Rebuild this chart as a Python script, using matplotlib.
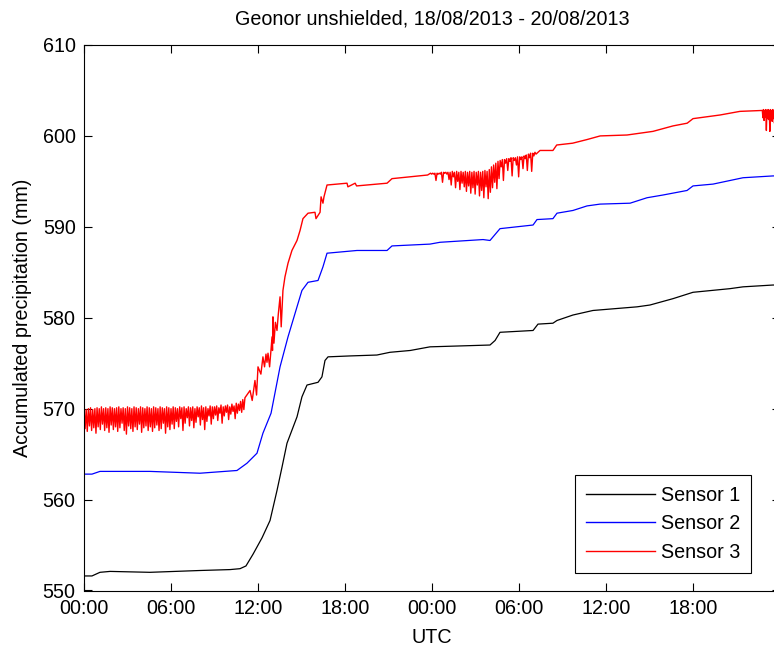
import numpy as np
import matplotlib
matplotlib.use("Agg")
import matplotlib.pyplot as plt

# ---------------- data (hours since 18/08/2013 00:00 UTC, mm) ----------------
s1_hours = [0.0, 0.55, 1.1, 1.8, 4.55, 8.0, 10.07, 10.76, 11.17, 11.66, 12.28, 12.83,
            13.31, 13.66, 14.0, 14.69, 15.03, 15.38, 16.14, 16.41, 16.62, 16.83, 18.34,
            20.2, 21.1, 22.5, 23.86, 28.0, 28.35, 28.69, 30.97, 31.31, 32.34, 32.62,
            33.72, 35.1, 38.14, 39.03, 40.62, 42.0, 44.55, 45.45, 47.52, 48.0]
s1_values = [551.6, 551.6, 552.0, 552.1, 552.0, 552.2, 552.3, 552.4, 552.7, 554.0, 555.8, 557.7,
             561.0, 563.6, 566.2, 569.1, 571.3, 572.6, 572.9, 573.5, 575.3, 575.7, 575.8,
             575.9, 576.2, 576.4, 576.8, 577.0, 577.5, 578.4, 578.6, 579.3, 579.4, 579.7,
             580.3, 580.8, 581.2, 581.4, 582.1, 582.8, 583.2, 583.4, 583.6, 583.6]

s2_hours = [0.0, 0.55, 1.1, 4.55, 8.0, 10.55, 11.24, 11.93, 12.34, 12.9, 13.52, 14.07,
            14.69, 15.03, 15.45, 16.14, 16.48, 16.76, 18.83, 20.9, 21.24, 23.86, 24.55,
            27.52, 28.0, 28.69, 30.97, 31.24, 32.34, 32.62, 33.72, 34.69, 35.59, 37.66,
            38.83, 39.93, 41.59, 42.0, 43.38, 45.45, 47.52, 48.0]
s2_values = [562.8, 562.8, 563.1, 563.1, 562.9, 563.2, 564.0, 565.1, 567.3, 569.5, 574.6, 577.9,
             581.2, 583.0, 583.9, 584.1, 585.6, 587.1, 587.4, 587.4, 587.9, 588.1, 588.3,
             588.6, 588.5, 589.8, 590.2, 590.8, 590.9, 591.5, 591.8, 592.3, 592.5, 592.6,
             593.2, 593.5, 594.0, 594.5, 594.7, 595.4, 595.6, 595.6]

# Sensor 3: noisy stretches, readings every 0.075 h (0.04 h at the very end)
s3_noise_a_start, s3_noise_a_step = 0.0, 0.075
s3_noise_a = [570.0, 567.8, 569.9, 567.5, 570.0, 568.1, 570.1, 567.6, 569.9, 567.9,
              570.0, 567.3, 570.1, 568.0, 570.0, 567.7, 570.2, 568.3, 570.0, 567.6,
              570.1, 567.9, 570.0, 567.4, 570.2, 568.2, 570.1, 567.7, 570.0, 568.0,
              570.1, 567.5, 570.2, 567.9, 570.0, 568.4, 570.1, 567.6, 570.0, 567.2,
              570.2, 568.1, 570.1, 567.8, 570.0, 567.5, 570.2, 568.0, 570.1, 567.7,
              570.0, 568.3, 570.2, 567.4, 570.1, 567.9, 570.0, 568.1, 570.2, 567.6,
              570.1, 568.0, 570.0, 567.5, 570.2, 567.9, 570.1, 568.2, 570.0, 567.6,
              570.2, 567.8, 570.1, 568.4, 570.0, 567.3, 570.2, 568.0, 570.1, 567.7,
              570.0, 568.3, 570.2, 567.8, 570.1, 568.6, 570.0, 568.0, 570.2, 568.9,
              570.1, 567.6, 570.2, 568.4, 570.0, 569.0, 570.2, 568.1, 570.1, 568.7,
              570.2, 567.9, 570.0, 568.5, 570.2, 569.1, 570.1, 568.2, 570.3, 568.8,
              570.1, 567.7, 570.2, 568.6, 570.0, 569.2, 570.3, 568.3, 570.2, 568.9,
              570.2, 569.3, 570.3, 568.7, 570.1, 569.5, 570.4, 568.4, 570.2, 569.2,
              570.3, 569.6, 570.4, 568.8, 570.2, 569.4, 570.5, 569.7, 570.3, 568.9,
              570.6, 569.5, 570.5, 569.8, 570.8, 569.6, 571.0, 569.9, 571.2]

s3_rise_hours = [11.45, 11.6, 11.79, 11.9, 12.0, 12.2, 12.34, 12.45, 12.55, 12.62, 12.69,
                 12.8, 12.97, 13.0, 13.03, 13.1, 13.2, 13.31, 13.4, 13.52, 13.6, 13.72,
                 13.86, 14.07, 14.34, 14.69, 14.9, 15.1, 15.45, 15.93, 16.0, 16.28, 16.35,
                 16.48, 16.55, 16.76, 18.14, 18.2, 18.7, 18.8, 20.9, 21.24, 23.7]
s3_rise_values = [572.0, 570.9, 573.1, 571.5, 574.6, 573.8, 575.7, 574.6, 576.0, 575.1, 576.1,
                  574.6, 577.9, 576.4, 580.1, 577.2, 579.5, 578.6, 580.4, 582.3, 579.0, 583.0,
                  584.5, 586.0, 587.4, 588.5, 589.6, 590.9, 591.5, 591.6, 590.9, 591.6, 593.3,
                  592.6, 593.3, 594.6, 594.8, 594.4, 594.8, 594.5, 594.8, 595.3, 595.7]

s3_noise_b_start, s3_noise_b_step = 23.9, 0.075
s3_noise_b = [595.9, 595.8, 595.9, 595.8, 595.9, 595.1, 595.9, 595.8, 595.9, 595.8,
              596.0, 594.9, 596.0, 595.9, 596.0, 595.8,
              596.0, 595.2, 596.0, 594.6, 596.1, 595.5, 596.0, 594.3, 596.1, 595.0,
              596.0, 594.1, 596.1, 594.8, 596.0, 594.4, 596.1, 593.9,
              596.0, 594.5, 596.1, 593.7, 596.0, 594.3, 596.1, 593.6, 596.0, 594.6,
              596.1, 593.4, 596.0, 594.0, 596.1, 593.2, 596.2, 594.4, 596.1, 593.1,
              596.3, 593.8, 596.6, 594.3, 596.8, 594.9, 597.0, 594.2, 597.2, 595.3,
              597.3, 596.6, 597.4, 595.1, 597.4, 597.0, 597.5, 596.2, 597.5, 597.2,
              597.6, 595.6, 597.6, 597.3, 597.6, 596.8, 597.7, 595.5, 597.7, 597.4,
              597.7, 596.4, 597.8, 597.5, 597.9, 596.2, 598.0, 597.6, 598.1, 596.1,
              598.1, 597.8, 598.2, 598.0]

s3_late_hours = [31.45, 32.34, 32.6, 33.7, 34.69, 35.6, 37.45, 39.24, 40.62, 41.6, 42.0,
                 43.86, 45.24, 46.7]
s3_late_values = [598.4, 598.4, 599.0, 599.2, 599.6, 600.0, 600.1, 600.5, 601.1, 601.4, 601.9,
                  602.3, 602.7, 602.8]

s3_noise_c_start, s3_noise_c_step = 46.78, 0.04
s3_noise_c = [602.8, 602.0, 602.9, 601.7, 602.8, 602.1, 602.9, 600.6, 602.8, 601.9,
              602.9, 601.8, 602.8, 600.5, 602.9, 602.0, 602.8, 601.6, 602.9, 601.9,
              602.8, 601.4, 602.9, 602.0, 602.8, 601.7, 602.9, 601.5, 602.8, 601.9]

series_labels = ["Sensor 1", "Sensor 2", "Sensor 3"]
series_colors = ["black", "blue", "red"]
x_ticks_hours = [0, 6, 12, 18, 24, 30, 36, 42]
x_tick_labels = ["00:00", "06:00", "12:00", "18:00", "00:00", "06:00", "12:00", "18:00"]
y_ticks = [550, 560, 570, 580, 590, 600, 610]

# ---------------- assemble sensor 3 ----------------
def seg(start, step, vals):
    return list(start + step * np.arange(len(vals))), list(vals)

ta, va = seg(s3_noise_a_start, s3_noise_a_step, s3_noise_a)
tb, vb = seg(s3_noise_b_start, s3_noise_b_step, s3_noise_b)
tc, vc = seg(s3_noise_c_start, s3_noise_c_step, s3_noise_c)
s3_hours = ta + s3_rise_hours + tb + s3_late_hours + tc
s3_values = va + s3_rise_values + vb + s3_late_values + vc

# ---------------- plot ----------------
plt.rcParams['font.family'] = ['Liberation Sans', 'DejaVu Sans']
FS = 14.2

fig = plt.figure(figsize=(7.74, 6.5), dpi=100)
W, H = 774, 650
x0, x1, ytop, ybot = 84, 780, 45, 590.5
ax = fig.add_axes([x0 / W, (H - ybot) / H, (x1 - x0) / W, (ybot - ytop) / H])

lw = 0.9
ax.plot(s1_hours, s1_values, color=series_colors[0], lw=lw, label=series_labels[0])
ax.plot(s2_hours, s2_values, color=series_colors[1], lw=lw, label=series_labels[1])
ax.plot(s3_hours, s3_values, color=series_colors[2], lw=1.0, label=series_labels[2])

ax.set_xlim(0, 48)
ax.set_ylim(550, 610)
ax.set_xticks(x_ticks_hours)
ax.set_xticklabels(x_tick_labels)
ax.set_yticks(y_ticks)
ax.tick_params(direction='in', length=6, width=0.8, top=True, right=True,
               labelsize=FS, pad=6)
for s in ax.spines.values():
    s.set_linewidth(0.8)

ax.set_title("Geonor unshielded, 18/08/2013 - 20/08/2013", fontsize=FS, pad=15)
ax.set_xlabel("UTC", fontsize=FS, labelpad=7)
ax.set_ylabel("Accumulated precipitation (mm)", fontsize=FS, labelpad=8)

leg = ax.legend(loc='upper right', bbox_to_anchor=((751 - x0) / (x1 - x0), (ybot - 475) / (ybot - ytop)),
                borderaxespad=0, fancybox=False, framealpha=1, edgecolor='black',
                fontsize=FS, handlelength=3.5, handletextpad=0.3, labelspacing=0.48,
                borderpad=0.55)
leg.get_frame().set_linewidth(0.8)
for h in leg.get_lines():
    h.set_linewidth(1.0)

fig.savefig("out.png", dpi=100)
